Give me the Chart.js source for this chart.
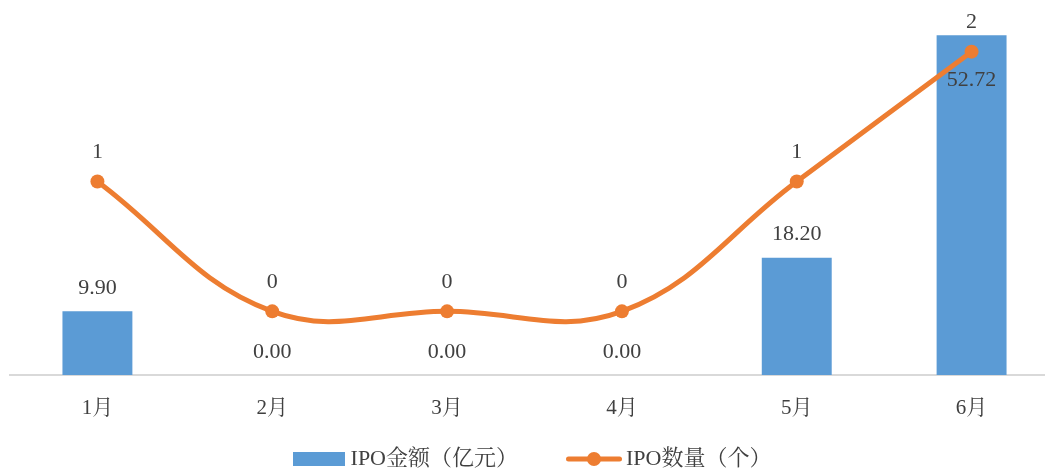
<!DOCTYPE html>
<html>
<head>
<meta charset="utf-8">
<script src="https://cdn.jsdelivr.net/npm/chart.js@4/dist/chart.umd.min.js"></script>
<style>
  html, body { margin: 0; padding: 0; overflow: hidden; background: #fff; }
  #wrap { width: 1069px; height: 480px; }
</style>
</head>
<body>
<div id="wrap"><canvas id="c" width="1069" height="480"></canvas></div>
<script>
// Monthly IPO figures
const months = ['1月', '2月', '3月', '4月', '5月', '6月'];
const ipoAmount = [9.90, 0.00, 0.00, 0.00, 18.20, 52.72];   // 亿元
const ipoCount = [1, 0, 0, 0, 1, 2];                           // 个
const seriesNames = ['IPO金额（亿元）', 'IPO数量（个）'];

const BLUE = '#5B9BD5';
const ORANGE = '#ED7D31';
const TEXT = '#404040';
const FONT = '"Liberation Serif", "Times New Roman", "Noto Serif CJK SC", "Noto Sans CJK SC", serif';

Chart.defaults.font.family = FONT;
Chart.defaults.color = TEXT;

// Small legend glyphs: a filled block for the bars, a line with a dot for the count series
function makeIcon(w, h, draw) {
  const c = document.createElement('canvas');
  c.width = w; c.height = h;
  draw(c.getContext('2d'), w, h);
  return c;
}
const barIcon = makeIcon(52, 14, (g, w, h) => { g.fillStyle = BLUE; g.fillRect(0, 0, w, h); });
const lineIcon = makeIcon(56, 16, (g, w, h) => {
  g.strokeStyle = ORANGE; g.lineWidth = 5; g.lineCap = 'round';
  g.beginPath(); g.moveTo(2.5, h / 2); g.lineTo(w - 2.5, h / 2); g.stroke();
  g.fillStyle = ORANGE; g.beginPath(); g.arc(w / 2, h / 2, 7, 0, Math.PI * 2); g.fill();
});

// Value labels: amounts above bars (inside the tallest one), counts above the points
const barLabelInside = 5;
const valueLabels = {
  id: 'valueLabels',
  afterLayout(chart) {
    // let the month labels spill below the thin x-axis box instead of being clipped
    chart.scales.x.bottom = chart.height;
  },
  afterDatasetsDraw(chart) {
    const ctx = chart.ctx;
    ctx.save();
    ctx.font = '22px ' + FONT;
    ctx.fillStyle = TEXT;
    ctx.textAlign = 'center';
    ctx.textBaseline = 'middle';
    chart.getDatasetMeta(0).data.forEach((bar, i) => {
      const y = i === barLabelInside ? bar.y + 45 : bar.y - 23;
      ctx.fillText(ipoAmount[i].toFixed(2), bar.x, y);
    });
    chart.getDatasetMeta(1).data.forEach((pt, i) => {
      ctx.fillText(String(ipoCount[i]), pt.x, pt.y - 29);
    });
    ctx.restore();
  }
};

new Chart(document.getElementById('c'), {
  data: {
    labels: months,
    datasets: [
      {
        type: 'bar',
        label: seriesNames[0],
        data: ipoAmount,
        backgroundColor: BLUE,
        borderWidth: 0,
        categoryPercentage: 0.8,
        barPercentage: 0.5,
        yAxisID: 'y',
        order: 2
      },
      {
        type: 'line',
        label: seriesNames[1],
        data: ipoCount,
        borderColor: ORANGE,
        backgroundColor: ORANGE,
        borderWidth: 5,
        borderCapStyle: 'round',
        tension: 0.4,
        pointRadius: 7,
        pointBorderWidth: 0,
        pointBackgroundColor: ORANGE,
        yAxisID: 'y1',
        order: 1
      }
    ]
  },
  options: {
    responsive: false,
    animation: false,
    devicePixelRatio: 1,
    layout: { padding: { top: 14, left: 10, right: 10, bottom: 0 } },
    scales: {
      x: {
        offset: true,
        grid: { display: false, drawTicks: false },
        border: { display: true, color: '#D9D9D9', width: 2 },
        ticks: { font: { size: 21 }, color: TEXT, padding: 21 },
        afterFit(scale) { scale.height = 18; }
      },
      y: { display: false, min: 0, max: 56 },
      y1: { display: false, min: -0.49, max: 2.29 }
    },
    plugins: {
      tooltip: { enabled: false },
      legend: {
        position: 'bottom',
        labels: {
          font: { size: 22 },
          color: TEXT,
          padding: 55,
          usePointStyle: true,
          pointStyleWidth: 42,
          generateLabels(chart) {
            return chart.data.datasets.map((ds, i) => ({
              text: ds.label,
              fillStyle: ds.backgroundColor,
              strokeStyle: ds.borderColor || ds.backgroundColor,
              lineWidth: 0,
              pointStyle: i === 0 ? barIcon : lineIcon,
              fontColor: TEXT,
              hidden: false,
              datasetIndex: i
            }));
          }
        }
      }
    }
  },
  plugins: [valueLabels]
});
</script>
</body>
</html>
